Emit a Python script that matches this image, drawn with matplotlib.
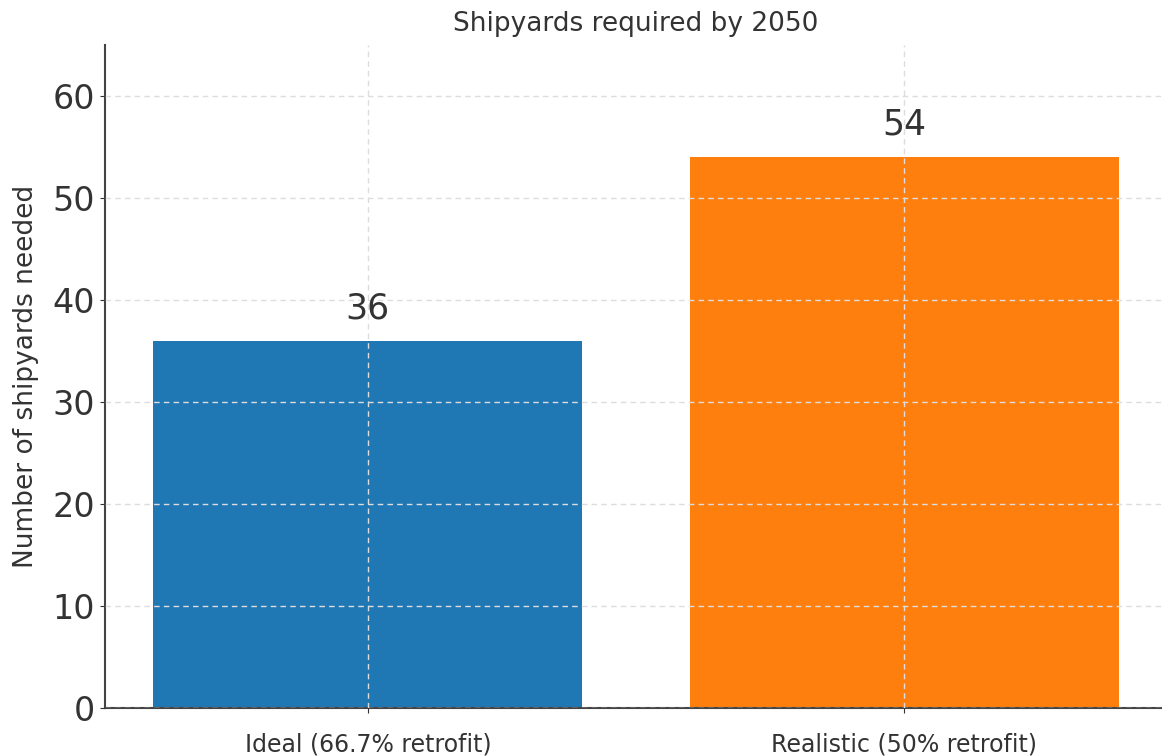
import matplotlib.pyplot as plt

# data
scenarios = ['Ideal (66.7% retrofit)', 'Realistic (50% retrofit)']
shipyards = [36, 54]
colors = ['#1f77b4', '#ff7f0e']

fig = plt.figure(figsize=(11.62, 7.56), dpi=100)
ax = fig.add_axes([105/1162, 1 - 708/756, (1167-105)/1162, (708-45)/756])

bars = ax.bar(scenarios, shipyards, color=colors, width=0.8)
for b, v in zip(bars, shipyards):
    ax.text(b.get_x() + b.get_width()/2, v + 1.5, str(v),
            ha='center', va='bottom', fontsize=25, color='#333333')

ax.set_ylim(0, 65)
ax.set_xlim(-0.49, 1.49)
ax.set_yticks(range(0, 61, 10))
ax.tick_params(axis='y', labelsize=24, colors='#333333')
ax.tick_params(axis='x', labelsize=17, colors='#333333', pad=14)
ax.set_ylabel('Number of shipyards needed', fontsize=19, color='#333333', labelpad=10)
ax.set_title('Shipyards required by 2050', fontsize=19, color='#333333', pad=10)

ax.grid(True, linestyle=(0, (4, 3)), color='#dddddd', linewidth=1, zorder=3)
ax.set_axisbelow(False)
ax.spines['top'].set_visible(False)
ax.spines['right'].set_visible(False)
for s in ['left', 'bottom']:
    ax.spines[s].set_color('#444444')
    ax.spines[s].set_linewidth(1.5)

fig.savefig('out.png', dpi=100)
